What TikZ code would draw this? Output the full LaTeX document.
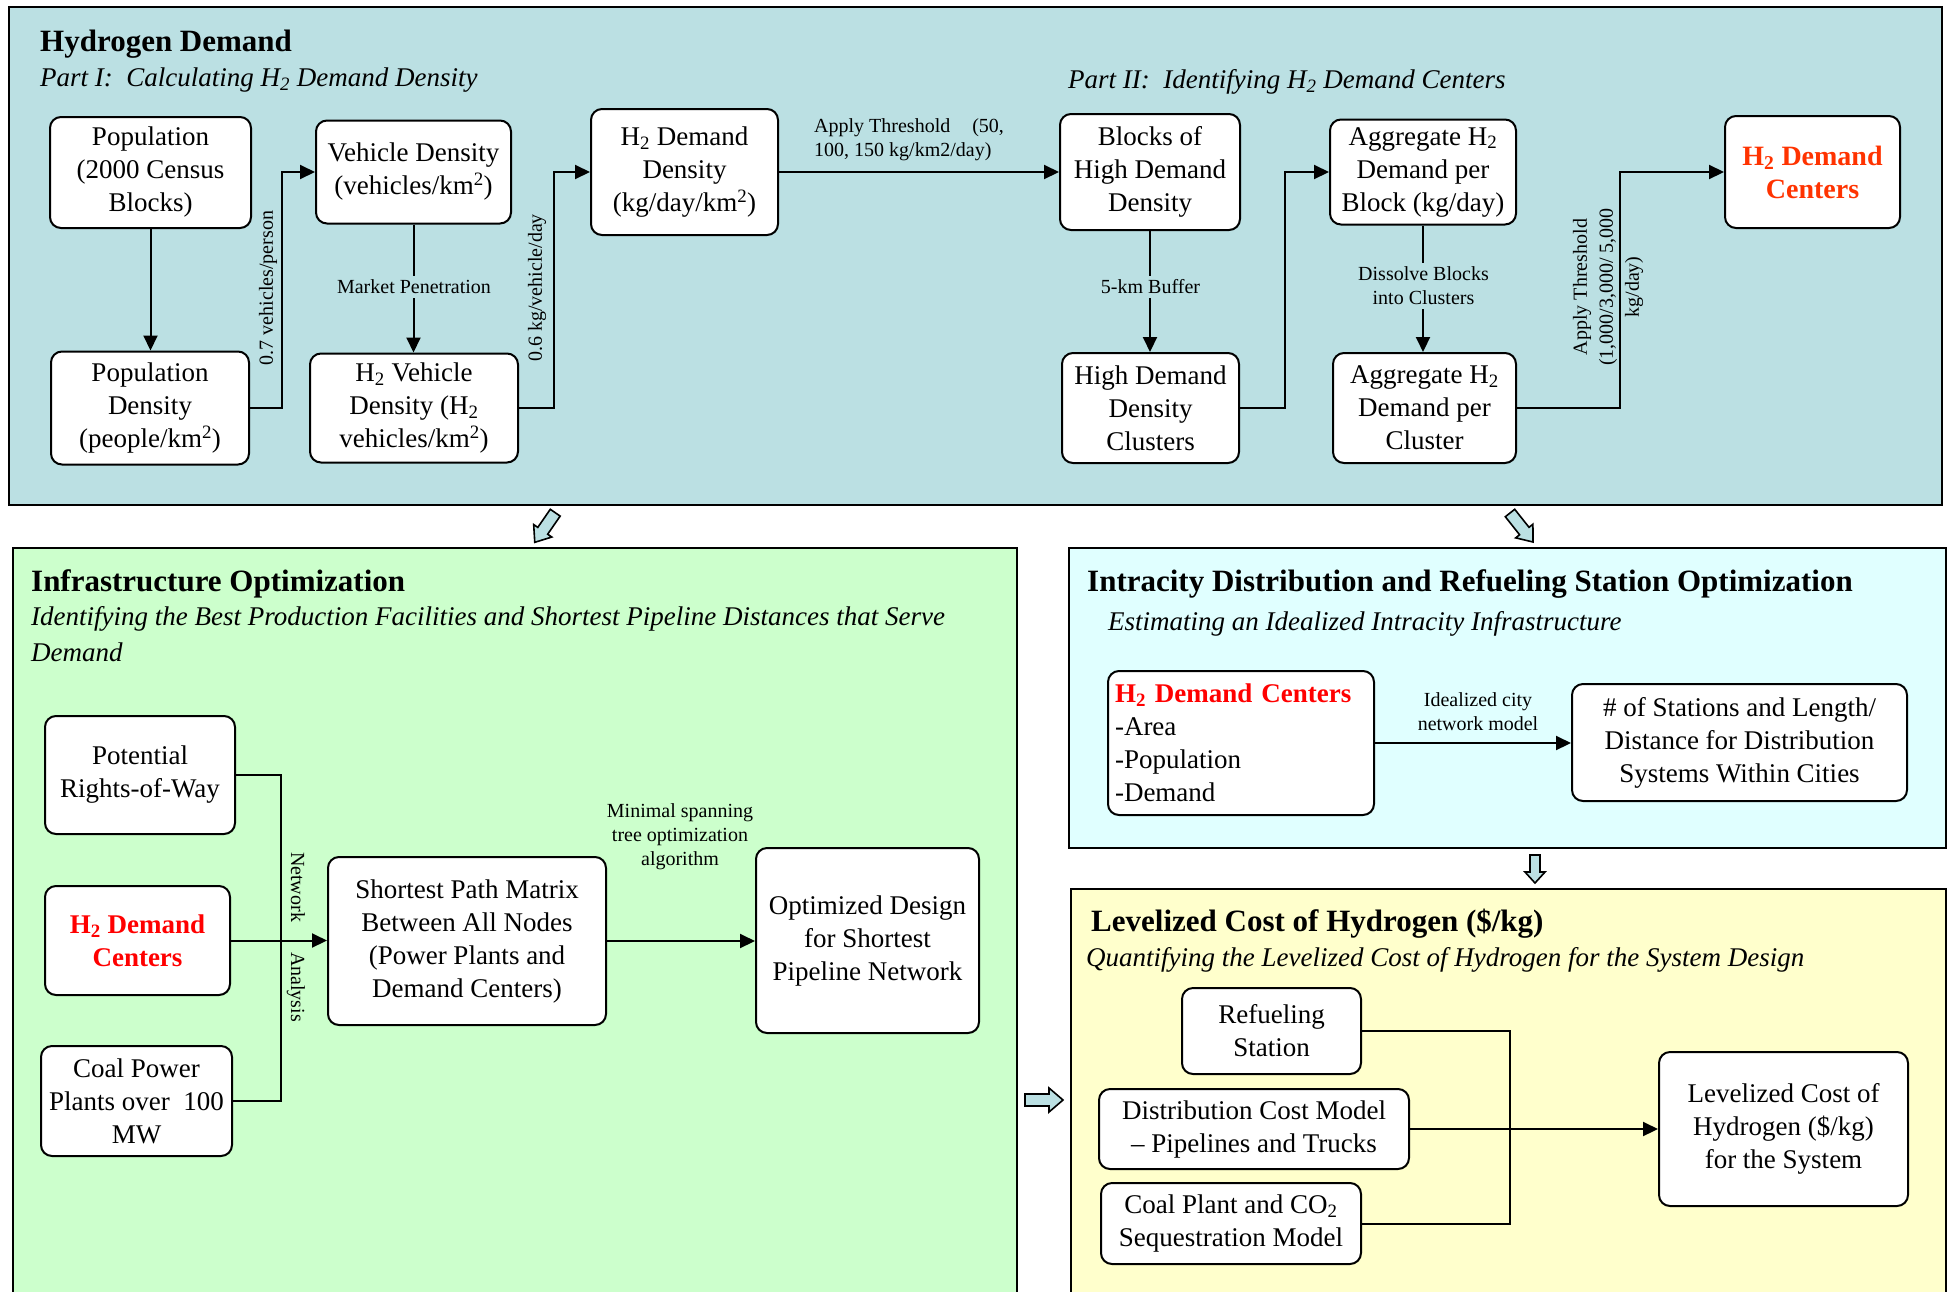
\documentclass[tikz,border=0pt]{standalone}
\usepackage{fontspec}
\setmainfont{Liberation Serif}
\usetikzlibrary{arrows.meta,calc}
\definecolor{topbg}{RGB}{187,224,227}
\definecolor{greenbg}{RGB}{204,255,204}
\definecolor{cyanbg}{RGB}{224,255,255}
\definecolor{yellowbg}{RGB}{255,255,204}
\definecolor{arrowbg}{RGB}{187,224,227}
\definecolor{redA}{RGB}{255,51,0}
\definecolor{redB}{RGB}{255,0,0}
\newcommand\Htwo{H\textsubscript{2}}
\newcommand\kmsq{km\textsuperscript{2}}
\newcommand\bkarrow[7]{\draw[barrow, shift={(#1,#2)}, rotate=#3] (-#4/2,-#6) -- (#4/2-#7,-#6) -- (#4/2-#7,-#5) -- (#4/2,0) -- (#4/2-#7,#5) -- (#4/2-#7,#6) -- (-#4/2,#6) -- cycle;}
\begin{document}
\begin{tikzpicture}[x=1pt,y=-1pt,
 panel/.style={draw=black, line width=2.2pt},
 box/.style={draw, line width=2pt, rounded corners=11pt, fill=white, align=center, inner sep=0pt, font=\fontsize{27}{33}\selectfont},
 lbl/.style={inner sep=1pt, align=center, font=\fontsize{20}{24}\selectfont},
 ttl/.style={anchor=west, inner sep=0pt, font=\fontsize{31}{36}\selectfont\bfseries},
 subt/.style={anchor=west, inner sep=0pt, align=left, font=\fontsize{27}{36}\selectfont\itshape},
 con/.style={line width=2pt},
 arr/.style={con, -{Triangle[length=15pt,width=14pt]}},
 barrow/.style={draw, line width=1.6pt, fill=arrowbg, line join=miter},
]
\useasboundingbox (0,0) rectangle (1951,1291);
\fill[white] (0,0) rectangle (1951,1291);

% ---------- Panels ----------
\draw[panel, fill=topbg] (9,7) rectangle (1942,505);
\draw[panel, fill=greenbg] (13,548) rectangle (1017,1310);
\draw[panel, fill=cyanbg] (1069,548) rectangle (1946,848);
\draw[panel, fill=yellowbg] (1071,889) rectangle (1946,1310);

% ---------- Block arrows ----------
\bkarrow{545}{527.5}{-124.6}{36}{11}{6}{14}
\bkarrow{1521.5}{527.5}{-51.6}{37}{11}{6}{14}
\bkarrow{1535}{869}{-90}{28}{10}{5}{11}
\bkarrow{1044}{1100}{0}{38}{12}{6}{14}

% ---------- Top panel ----------
\node[ttl] (t1) at (40,44) {Hydrogen Demand};
\node[subt] (s1) at (40,80) {Part I:\ \ Calculating \Htwo\ Demand Density};
\node[subt] (s2) at (1068,82) {Part II:\ \ Identifying \Htwo\ Demand Centers};

\node[box, minimum width=201, minimum height=111] (popA) at (150.5,172.5) {Population\\(2000 Census\\Blocks)};
\node[box, minimum width=198, minimum height=113] (popD) at (150,408) {Population\\Density\\(people/\kmsq)};
\node[box, minimum width=195, minimum height=103] (vehD) at (413.5,172) {Vehicle Density\\(vehicles/\kmsq)};
\node[box, minimum width=208, minimum height=109] (h2vD) at (414,408) {\Htwo\ Vehicle\\Density (H\textsubscript{2}\\vehicles/\kmsq)};
\node[box, minimum width=187, minimum height=126] (h2DD) at (684.5,172) {\Htwo\ Demand\\Density\\(kg/day/\kmsq)};
\node[box, minimum width=180, minimum height=116] (blk) at (1150,172) {Blocks of\\High Demand\\Density};
\node[box, minimum width=177, minimum height=110] (hddc) at (1150.5,408) {High Demand\\Density\\Clusters};
\node[box, minimum width=186, minimum height=105] (aggB) at (1423,172) {Aggregate \Htwo\\Demand per\\Block (kg/day)};
\node[box, minimum width=183, minimum height=110] (aggC) at (1424.5,408) {Aggregate \Htwo\\Demand per\\Cluster};
\node[box, minimum width=175, minimum height=112, text=redA, font=\fontsize{28}{33}\selectfont\bfseries] (h2DC) at (1812.5,172) {\Htwo\ Demand\\Centers};

\coordinate (e1) at (282,0);
\coordinate (e2) at (554,0);
\coordinate (e3) at (1285,0);
\coordinate (e4) at (1620,0);
\draw[arr] (popA.south) -- (popA.south |- popD.north);
\draw[arr] (popD.east) -- (popD.east -| e1) -- (e1 |- vehD.west) -- (vehD.west);
\draw[arr] (vehD.south) -- (vehD.south |- h2vD.north);
\draw[arr] (h2vD.east) -- (h2vD.east -| e2) -- (e2 |- h2DD.west) -- (h2DD.west);
\draw[arr] (h2DD.east) -- (blk.west);
\draw[arr] (blk.south) -- (blk.south |- hddc.north);
\draw[arr] (hddc.east) -- (hddc.east -| e3) -- (e3 |- aggB.west) -- (aggB.west);
\draw[arr] (aggB.south) -- (aggB.south |- aggC.north);
\draw[arr] (aggC.east) -- (aggC.east -| e4) -- (e4 |- h2DC.west) -- (h2DC.west);

\node[lbl, rotate=90] (l1) at (268,288) {0.7 vehicles/person};
\node[lbl, rotate=90] (l2) at (537,288) {0.6 kg/vehicle/day};
\node[lbl, fill=topbg, inner sep=4pt] (l3) at (414,287) {Market Penetration};
\node[lbl, fill=topbg, inner sep=4pt] (l4) at (1150.5,287) {5-km Buffer};
\node[lbl, fill=topbg, inner sep=4pt] (l5) at (1423.5,286) {Dissolve Blocks\\into Clusters};
\node[lbl, align=left, anchor=west] (l6) at (813,140) {Apply Threshold\hspace{22pt}(50,\\100, 150 kg/km2/day)};
\node[lbl, rotate=90, font=\fontsize{20}{26}\selectfont] (l7) at (1608,287) {Apply Threshold\\(1,000/3,000/ 5,000\\kg/day)};

% ---------- Infrastructure panel ----------
\node[ttl] (t2) at (31,584) {Infrastructure Optimization};
\node[subt, anchor=north west] (s3) at (31,606) {Identifying the Best Production Facilities and Shortest Pipeline Distances that Serve\\Demand};

\node[box, minimum width=190, minimum height=118] (prow) at (140,775) {Potential\\Rights-of-Way};
\node[box, minimum width=185, minimum height=109, text=redB, font=\fontsize{27}{33}\selectfont\bfseries] (h2dc2) at (137.5,940.5) {\Htwo\ Demand\\Centers};
\node[box, minimum width=191, minimum height=110] (coal) at (136.5,1101) {Coal Power\\Plants over\ \ 100\\MW};
\node[box, minimum width=278, minimum height=168] (spm) at (467,941) {Shortest Path Matrix\\Between All Nodes\\(Power Plants and\\Demand Centers)};
\node[box, minimum width=223, minimum height=185] (opt) at (867.5,940.5) {Optimized Design\\for Shortest\\Pipeline Network};

\coordinate (e5) at (281,0);
\draw[con] (prow.east) -- (prow.east -| e5) -- (e5 |- coal.east) -- (coal.east);
\draw[arr] (h2dc2.east) -- (h2dc2.east -| spm.west);
\draw[arr] (spm.east) -- (spm.east -| opt.west);
\node[lbl, rotate=-90] (l8) at (296,937) {Network\hspace{30pt}Analysis};
\node[lbl] (l9) at (680,837) {Minimal spanning\\tree optimization\\algorithm};

% ---------- Intracity panel ----------
\node[ttl] (t3) at (1087,584) {Intracity Distribution and Refueling Station Optimization};
\node[subt] (s4) at (1108,624) {Estimating an Idealized Intracity Infrastructure};

\node[box, align=left, text width=252, inner xsep=7pt, minimum height=144] (h2dc3) at (1241,743) {{\color{redB}\bfseries \Htwo\ Demand Centers}\\-Area\\-Population\\-Demand};
\node[box, minimum width=335, minimum height=117] (stat) at (1739.5,742.5) {\# of Stations and Length/\\Distance for Distribution\\Systems Within Cities};
\draw[arr] (h2dc3.east) -- (h2dc3.east -| stat.west);
\node[lbl] (l10) at (1478,712) {Idealized city\\network model};

% ---------- Levelized cost panel ----------
\node[ttl] (t4) at (1091,924) {Levelized Cost of Hydrogen (\$/kg)};
\node[subt] (s5) at (1086,960) {Quantifying the Levelized Cost of Hydrogen for the System Design};

\node[box, minimum width=179, minimum height=86] (refuel) at (1271.5,1031) {Refueling\\Station};
\node[box, minimum width=310, minimum height=80] (dist) at (1254,1129) {Distribution Cost Model\\-- Pipelines and Trucks};
\node[box, minimum width=260, minimum height=81] (coalm) at (1231,1223.5) {Coal Plant and CO\textsubscript{2}\\Sequestration Model};
\node[box, minimum width=249, minimum height=154] (lcoh) at (1783.5,1129) {Levelized Cost of\\Hydrogen (\$/kg)\\for the System};

\coordinate (e6) at (1510,0);
\draw[con] (refuel.east) -- (refuel.east -| e6) -- (e6 |- coalm.east) -- (coalm.east);
\draw[arr] (dist.east) -- (dist.east -| lcoh.west);
\end{tikzpicture}
\end{document}
